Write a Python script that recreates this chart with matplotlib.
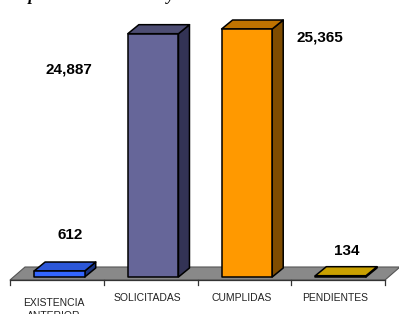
import matplotlib
matplotlib.use("Agg")
import matplotlib.pyplot as plt
from matplotlib.patches import Polygon

# datos
categorias = ["EXISTENCIA\nANTERIOR", "SOLICITADAS", "CUMPLIDAS", "PENDIENTES"]
valores = [612, 24887, 25365, 134]
etiquetas = ["612", "24,887", "25,365", "134"]
titulo = "Reporte de Solicitudes y Órdenes"

# colores de cada barra (frente, tapa, lado)
col_frente = ["#3366ff", "#666699", "#ff9900", "#cc9900"]
col_tapa = ["#2c57d8", "#4d4d73", "#bf7300", "#c9a000"]
col_lado = ["#1a3380", "#333355", "#7f4c00", "#665000"]

# posicion de las etiquetas de valor (x relativa, y en unidades)
lab_x = [0.145, 0.129, 2.801, 3.089]
lab_y = [4347, 21172, 24496, 2659]

fig = plt.figure(figsize=(3.99, 3.14), dpi=100)
ax = fig.add_axes([0, 0, 1, 1])
ax.set_xlim(-0.6067, 3.6493)
ax.set_ylim(-3784, 28331)
ax.axis("off")

# piso gris
fdx, fdy, fy = 0.16, 1330, -307
piso = Polygon([(-0.5, fy), (3.5, fy), (3.5 + fdx, fy + fdy), (-0.5 + fdx, fy + fdy)],
               closed=True, facecolor="#898989", edgecolor="#555555", lw=0.8, zorder=1)
ax.add_patch(piso)
ax.plot([-0.5, 3.5], [fy, fy], color="#333333", lw=0.9, zorder=2)
for t in range(5):
    ax.plot([t - 0.5, t - 0.5], [fy, fy - 520], color="#333333", lw=0.9, zorder=2)

# barras 3d
w = 0.54
dx, dy = 0.1173, 920
for i, v in enumerate(valores):
    xc = i + 0.027
    x0, x1 = xc - w / 2, xc + w / 2
    lado = Polygon([(x1, 0), (x1 + dx, dy), (x1 + dx, v + dy), (x1, v)], closed=True,
                   facecolor=col_lado[i], edgecolor="black", lw=1.1, joinstyle="round", zorder=3)
    tapa = Polygon([(x0, v), (x0 + dx, v + dy), (x1 + dx, v + dy), (x1, v)], closed=True,
                   facecolor=col_tapa[i], edgecolor="black", lw=1.1, joinstyle="round", zorder=3)
    frente = Polygon([(x0, 0), (x1, 0), (x1, v), (x0, v)], closed=True,
                     facecolor=col_frente[i], edgecolor="black", lw=1.1, joinstyle="round", zorder=4)
    ax.add_patch(lado)
    ax.add_patch(tapa)
    ax.add_patch(frente)
    ax.text(lab_x[i], lab_y[i], etiquetas[i], ha="center", va="center",
            fontsize=11, fontweight="bold", family="Liberation Sans", color="black")

# etiquetas de categorias
for i, c in enumerate(categorias):
    ax.text(i - 0.03, -2148, c, ha="center", va="top" if "\n" in c else "center",
            fontsize=7.5, family="Liberation Sans", color="#222222", linespacing=1.35)

fig.text(10 / 399, 1.0, titulo, ha="left", va="baseline", fontsize=12,
         fontweight="bold", style="italic", family="Liberation Serif")

fig.savefig("out.png", dpi=100)
